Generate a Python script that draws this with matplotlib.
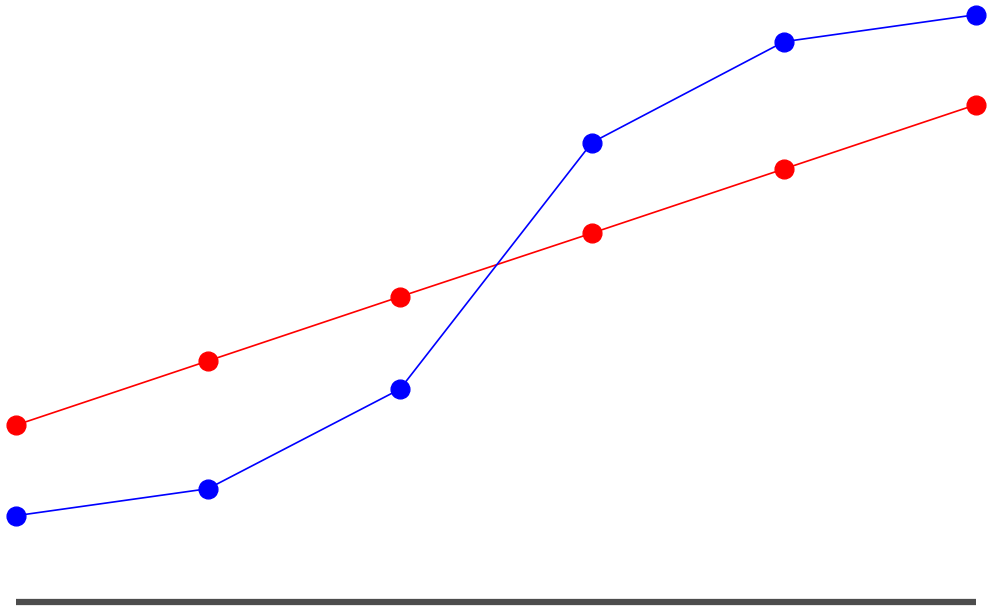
import matplotlib
matplotlib.use("Agg")
import matplotlib.pyplot as plt

# data
x_pos = [0, 1, 2, 3, 4, 5]
red_vals = [29.4, 40.1, 50.8, 61.4, 72.1, 82.8]
blue_vals = [14.3, 18.8, 35.4, 76.5, 93.3, 97.8]

fig = plt.figure(figsize=(9.96, 6.13), dpi=100)
ax = fig.add_axes([16 / 996, 11.5 / 613, 960 / 996, 600 / 613])

ax.plot(x_pos, red_vals, color="#ff0000", lw=1.2, marker="o", ms=13.5,
        clip_on=False, zorder=3)
ax.plot(x_pos, blue_vals, color="#0000ff", lw=1.2, marker="o", ms=13.5,
        clip_on=False, zorder=3)

ax.set_xlim(0, 5)
ax.set_ylim(0, 100)
for side in ["top", "left", "right"]:
    ax.spines[side].set_visible(False)
ax.spines["bottom"].set_linewidth(4.5)
ax.spines["bottom"].set_color("#4d4d4d")
ax.spines["bottom"].set_capstyle("butt")
ax.set_xticks([])
ax.set_yticks([])

fig.savefig("out.png", dpi=100)
